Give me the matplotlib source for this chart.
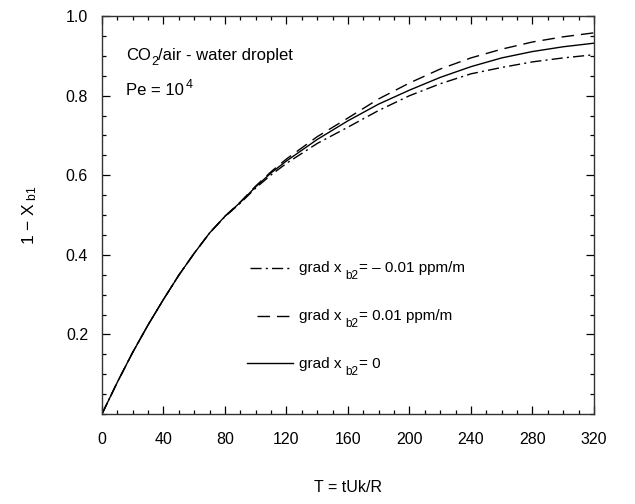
import matplotlib
matplotlib.use("Agg")
import matplotlib.pyplot as plt
from matplotlib.ticker import MultipleLocator
from matplotlib.transforms import offset_copy

plt.rcParams['font.family'] = ['Liberation Sans', 'DejaVu Sans']
plt.rcParams['mathtext.fontset'] = 'custom'
plt.rcParams['mathtext.rm'] = 'Liberation Sans'
plt.rcParams['mathtext.it'] = 'Liberation Sans'

# values
T = [0, 10, 20, 30, 40, 50, 60, 70, 80, 90, 100, 110, 120, 140, 160,
     180, 200, 220, 240, 260, 280, 300, 320]
grad_zero = [0, 0.080, 0.155, 0.224, 0.288, 0.349, 0.404, 0.455, 0.497, 0.532,
             0.571, 0.606, 0.636, 0.690, 0.737, 0.779, 0.814, 0.846, 0.873,
             0.895, 0.911, 0.923, 0.932]
grad_pos = [0, 0.080, 0.155, 0.224, 0.288, 0.349, 0.404, 0.455, 0.497, 0.533,
            0.573, 0.609, 0.641, 0.697, 0.744, 0.792, 0.832, 0.867, 0.895,
            0.917, 0.935, 0.948, 0.958]
grad_neg = [0, 0.080, 0.155, 0.224, 0.288, 0.349, 0.404, 0.455, 0.496, 0.530,
            0.568, 0.601, 0.630, 0.680, 0.721, 0.763, 0.800, 0.830, 0.855,
            0.871, 0.885, 0.895, 0.903]

x_ticks = [0, 40, 80, 120, 160, 200, 240, 280, 320]
y_ticks = [0.2, 0.4, 0.6, 0.8, 1.0]
y_ticklabels = ['0.2', '0.4', '0.6', '0.8', '1.0']

fig = plt.figure(figsize=(6.35, 5.04), dpi=100)
ax = fig.add_axes([0.1606, 0.1786, 0.7748, 0.7894])
renderer = fig.canvas.get_renderer()


def rich_text(x, y, parts):
    # parts: (string, baseline shift in points, fontsize), laid out left to right
    dx = 0.0
    for s, dy, size in parts:
        tr = offset_copy(ax.transData, fig=fig, x=dx, y=dy * fig.dpi / 72.0,
                         units='dots')
        t = ax.text(x, y, s, fontsize=size, va='baseline', ha='left',
                    transform=tr)
        dx += t.get_window_extent(renderer).width


ls_dashdot = (0, (8, 3, 1.5, 3))
ls_dash = (0, (9, 5))

ax.plot(T, grad_neg, color='black', lw=1.0, linestyle=ls_dashdot)
ax.plot(T, grad_pos, color='black', lw=1.0, linestyle=ls_dash)
ax.plot(T, grad_zero, color='black', lw=1.0, linestyle='-')

ax.set_xlim(0, 320)
ax.set_ylim(0, 1.0)
ax.set_xticks(x_ticks)
ax.set_yticks(y_ticks)
ax.set_yticklabels(y_ticklabels)
ax.xaxis.set_minor_locator(MultipleLocator(10))
ax.yaxis.set_minor_locator(MultipleLocator(0.05))
ax.tick_params(which='both', direction='in', top=True, right=True,
               labelsize=11.5, width=0.9)
ax.tick_params(which='major', length=6)
ax.tick_params(axis='x', which='major', pad=13)
ax.tick_params(axis='y', which='major', pad=10)
ax.tick_params(which='minor', length=3)
for s in ax.spines.values():
    s.set_linewidth(1.0)
    s.set_color('#333333')

ax.set_xlabel('T = tUk/R', fontsize=11.5, labelpad=24)
ax.set_ylabel(r'1 $-$ X$_{\rm \ b1}$', fontsize=12.5)
ax.yaxis.set_label_coords(-0.128, 0.5)

rich_text(15.6, 0.89, [('CO', 0, 12), ('2', -4, 9),
                       ('/air - water droplet', 0, 12)])
rich_text(15.6, 0.8025, [('Pe = 10', 0, 12), (' ', 0, 5), ('4', 5, 9)])

# hand placed legend
leg_rows = [
    (0.3675, ls_dashdot, '= \u2013 0.01 ppm/m', 96),
    (0.2475, ls_dash, '= 0.01 ppm/m', 101),
    (0.1275, '-', '= 0', 94),
]
for yv, ls, tail, x0 in leg_rows:
    ax.plot([x0, 124], [yv, yv], color='black', lw=1.0, linestyle=ls)
    rich_text(128, yv - 0.0115, [('grad x ', 0, 11), ('b2', -5, 8.5),
                                 (tail, 0, 11)])

fig.savefig('out.png', dpi=100)
